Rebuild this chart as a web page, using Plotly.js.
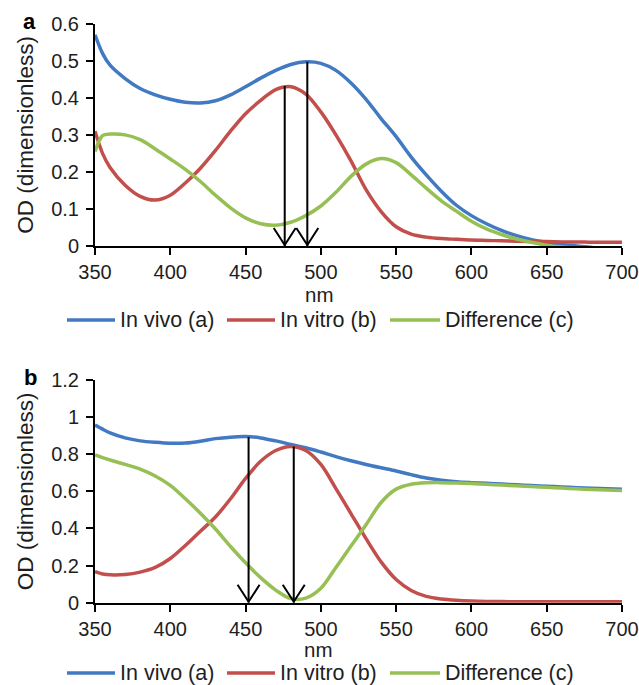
<!DOCTYPE html>
<html><head><meta charset="utf-8">
<script src="https://cdn.plot.ly/plotly-3.0.1.min.js"></script>
<style>html,body{margin:0;padding:0;background:#fff}#chart{width:639px;height:685px}</style>
</head><body><div id="chart"></div>
<script>
// Wavelength grid (nm)
const wavelength = [350,355,360,370,380,390,400,410,420,430,440,450,460,470,480,490,500,510,520,530,540,550,560,570,580,590,600,610,620,630,640,650,660,670,680,690,700];

// Panel a
const inVivoA = [0.570,0.520,0.488,0.452,0.425,0.408,0.396,0.388,0.386,0.392,0.408,0.430,0.453,0.474,0.490,0.497,0.493,0.474,0.440,0.396,0.344,0.295,0.240,0.192,0.148,0.110,0.082,0.060,0.042,0.028,0.017,0.010,0.004,0.000,-0.004,-0.006,null];
const inVitroA = [0.310,0.250,0.212,0.164,0.134,0.124,0.137,0.170,0.210,0.258,0.310,0.357,0.393,0.422,0.430,0.410,0.362,0.300,0.230,0.152,0.093,0.052,0.032,0.024,0.020,0.018,0.016,0.015,0.014,0.013,0.012,0.012,0.011,0.011,0.010,0.010,0.010];
const differenceA = [0.255,0.298,0.302,0.300,0.287,0.262,0.235,0.207,0.174,0.137,0.103,0.076,0.060,0.056,0.064,0.082,0.108,0.145,0.188,0.221,0.236,0.225,0.192,0.156,0.122,0.094,0.067,0.046,0.031,0.019,0.010,0.002,-0.003,-0.006,null,null,null];

// Panel b
const inVivoB = [0.957,0.935,0.915,0.888,0.872,0.864,0.859,0.860,0.870,0.884,0.892,0.895,0.888,0.872,0.853,0.835,0.812,0.787,0.765,0.745,0.727,0.710,0.690,0.672,0.660,0.652,0.647,0.643,0.639,0.635,0.631,0.627,0.624,0.620,0.617,0.614,0.611];
const inVitroB = [0.167,0.155,0.150,0.152,0.165,0.190,0.238,0.308,0.385,0.462,0.560,0.670,0.762,0.820,0.842,0.820,0.745,0.615,0.480,0.345,0.220,0.125,0.066,0.034,0.020,0.013,0.009,0.007,0.006,0.005,0.005,0.005,0.005,0.005,0.005,0.005,0.005];
const differenceB = [0.796,0.782,0.769,0.745,0.720,0.683,0.632,0.560,0.482,0.397,0.303,0.215,0.135,0.068,0.022,0.025,0.078,0.190,0.305,0.420,0.540,0.612,0.638,0.646,0.647,0.645,0.642,0.638,0.634,0.630,0.626,0.622,0.618,0.614,0.610,0.607,0.604];

// Arrow markers (peak wavelengths and their heights)
const arrowA_nm = [476, 491];
const arrowA_top = [0.432, 0.497];
const arrowB_nm = [452, 482];
const arrowB_top = [0.893, 0.842];

const seriesNames = ['In vivo (a)', 'In vitro (b)', 'Difference (c)'];
const colors = ['#4179c2', '#c24f4c', '#96bf54'];

const FONT = 'Liberation Sans, Arial, Helvetica, sans-serif';
const TXT = '#1e1e1e';
const W = 639, H = 685;
const px = v => v / W, py = v => 1 - v / H;

function mk(y, i, xa, ya) {
  return {x: wavelength, y: y, type: 'scatter', mode: 'lines', name: seriesNames[i],
    xaxis: xa, yaxis: ya, showlegend: false,
    line: {color: colors[i], width: 3.5, shape: 'spline', smoothing: 0.9}};
}
const data = [
  mk(inVivoA, 0, 'x', 'y'), mk(inVitroA, 1, 'x', 'y'), mk(differenceA, 2, 'x', 'y'),
  mk(inVivoB, 0, 'x2', 'y2'), mk(inVitroB, 1, 'x2', 'y2'), mk(differenceB, 2, 'x2', 'y2')
];

const shapes = [];
const annotations = [];
function addArrows(nms, tops, xr, yr) {
  nms.forEach((nm, i) => {
    shapes.push({type: 'line', xref: xr, yref: yr, x0: nm, x1: nm, y0: tops[i], y1: 0, line: {color: '#000', width: 2}});
    shapes.push({type: 'path', xref: xr, yref: yr, xsizemode: 'pixel', ysizemode: 'pixel', xanchor: nm, yanchor: 0,
      path: 'M-11,18 L0,1 L11,18', line: {color: '#000', width: 2}});
  });
}
addArrows(arrowA_nm, arrowA_top, 'x', 'y');
addArrows(arrowB_nm, arrowB_top, 'x2', 'y2');

// Legend rows drawn below each panel (line sample + label)
const legendLineX = [[67, 115], [227, 275], [390, 440]];
const legendTextX = [118, 278, 443];
function addLegend(yPix) {
  seriesNames.forEach((nm, i) => {
    shapes.push({type: 'line', xref: 'paper', yref: 'paper', x0: px(legendLineX[i][0]), x1: px(legendLineX[i][1]),
      y0: py(yPix), y1: py(yPix), line: {color: colors[i], width: 3.5}});
    annotations.push({text: nm, xref: 'paper', yref: 'paper', x: px(legendTextX[i]), y: py(yPix),
      xanchor: 'left', yanchor: 'middle', showarrow: false, font: {family: FONT, size: 21.5, color: TXT}});
  });
}
addLegend(320);
addLegend(673);

annotations.push(
  {text: '<b>a</b>', xref: 'paper', yref: 'paper', x: px(29), y: py(21), xanchor: 'center', yanchor: 'middle', showarrow: false, font: {family: FONT, size: 22, color: '#000'}},
  {text: '<b>b</b>', xref: 'paper', yref: 'paper', x: px(30), y: py(377), xanchor: 'center', yanchor: 'middle', showarrow: false, font: {family: FONT, size: 22, color: '#000'}},
  {text: 'nm', xref: 'paper', yref: 'paper', x: px(319), y: py(294), xanchor: 'center', yanchor: 'middle', showarrow: false, font: {family: FONT, size: 20.5, color: TXT}},
  {text: 'nm', xref: 'paper', yref: 'paper', x: px(318), y: py(649.5), xanchor: 'center', yanchor: 'middle', showarrow: false, font: {family: FONT, size: 20.5, color: TXT}}
);

const xdom = [px(95), px(622)];
const xaxisBase = {range: [350, 700], dtick: 50, tick0: 350, showline: true, linecolor: '#000', linewidth: 2,
  ticks: 'outside', ticklen: 7, tickwidth: 2, tickcolor: '#000', showgrid: false, zeroline: false,
  tickfont: {family: FONT, size: 20, color: TXT}, ticklabelstandoff: 0, domain: xdom, fixedrange: true};
const yaxisBase = {showline: true, linecolor: '#000', linewidth: 2, ticks: 'outside', ticklen: 7, tickwidth: 2,
  tickcolor: '#000', showgrid: false, zeroline: false, tickfont: {family: FONT, size: 20, color: TXT},
  ticklabelstandoff: 3, title: {text: 'OD (dimensionless)', font: {family: FONT, size: 22.5, color: TXT}, standoff: 11}};

const layout = {
  width: W, height: H, margin: {l: 0, r: 0, t: 0, b: 0}, paper_bgcolor: '#fff', plot_bgcolor: '#fff',
  font: {family: FONT, color: TXT}, showlegend: false,
  xaxis: Object.assign({}, xaxisBase, {anchor: 'y'}),
  yaxis: Object.assign({}, yaxisBase, {range: [0, 0.6], dtick: 0.1, domain: [py(246), py(23.7)], anchor: 'x'}),
  xaxis2: Object.assign({}, xaxisBase, {anchor: 'y2'}),
  yaxis2: Object.assign({}, yaxisBase, {range: [0, 1.2], dtick: 0.2, domain: [py(602.7), py(380)], anchor: 'x2'}),
  shapes: shapes,
  annotations: annotations
};

Plotly.newPlot('chart', data, layout, {staticPlot: true, displayModeBar: false});
</script></body></html>
